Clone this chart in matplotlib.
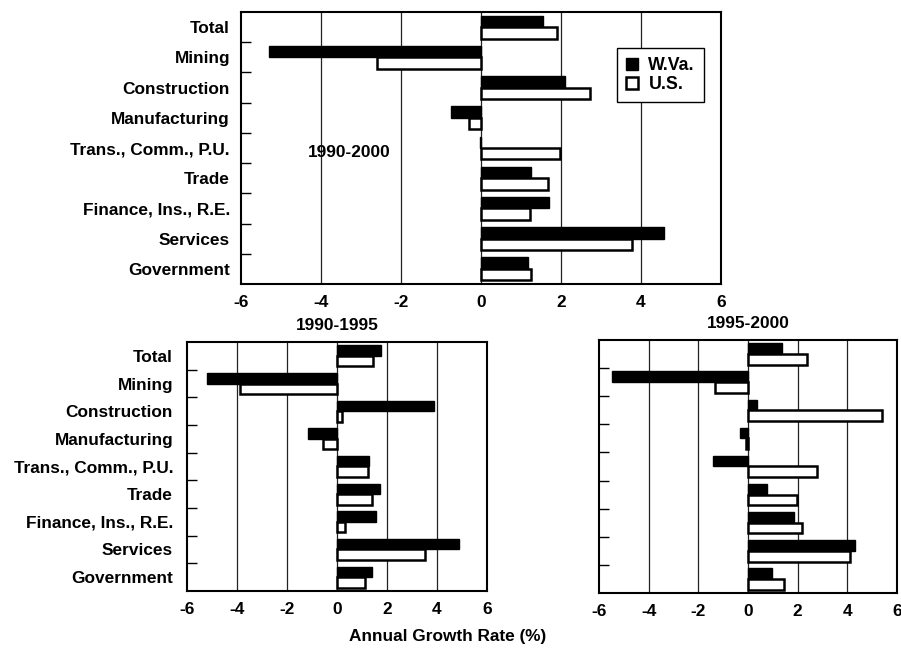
import numpy as np
import matplotlib
matplotlib.use("Agg")
import matplotlib.pyplot as plt
from matplotlib.patches import Patch

plt.rcParams['font.family'] = ['Liberation Sans', 'DejaVu Sans']
plt.rcParams['font.weight'] = 'bold'

industries = ["Total", "Mining", "Construction", "Manufacturing",
              "Trans., Comm., P.U.", "Trade", "Finance, Ins., R.E.",
              "Services", "Government"]

# annual growth rates (%)
wva_90_00 = [1.56, -5.31, 2.10, -0.74, -0.03, 1.25, 1.71, 4.58, 1.17]
us_90_00 = [1.90, -2.61, 2.74, -0.30, 1.98, 1.67, 1.23, 3.78, 1.26]

wva_90_95 = [1.78, -5.19, 3.88, -1.17, 1.30, 1.73, 1.58, 4.90, 1.39]
us_90_95 = [1.45, -3.89, 0.19, -0.56, 1.25, 1.41, 0.33, 3.51, 1.12]

wva_95_00 = [1.36, -5.47, 0.37, -0.33, -1.40, 0.77, 1.86, 4.29, 0.96]
us_95_00 = [2.39, -1.33, 5.39, -0.09, 2.78, 1.96, 2.17, 4.12, 1.43]

xticks = [-6, -4, -2, 0, 2, 4, 6]
FS = 12.4


def draw_panel(ax, wva, us, show_labels, label_pad):
    y = np.arange(len(industries))
    h = 0.38
    ax.barh(y - h / 2, wva, height=h, color='black', edgecolor='black',
            linewidth=1.0, zorder=3)
    ax.barh(y + h / 2, us, height=h, color='white', edgecolor='black',
            linewidth=1.8, zorder=3)
    ax.set_xlim(-6, 6)
    ax.set_ylim(len(industries) - 0.5, -0.5)
    ax.set_xticks(xticks)
    ax.set_xticklabels([str(t) for t in xticks], fontsize=FS, fontweight='bold')
    ax.tick_params(axis='x', length=0, pad=8)
    for t in xticks[1:-1]:
        ax.axvline(t, color='#222222', lw=0.9, zorder=1)
    # boundary ticks between categories, labels at the centres
    ax.set_yticks(np.arange(len(industries) - 1) + 0.5)
    ax.set_yticklabels([])
    ax.tick_params(axis='y', which='major', direction='in', length=7,
                   width=1.0, left=True, right=False)
    ax.set_yticks(y, minor=True)
    if show_labels:
        ax.set_yticklabels(industries, minor=True, fontsize=FS,
                           fontweight='bold')
    else:
        ax.set_yticklabels([], minor=True)
    ax.tick_params(axis='y', which='minor', length=0, pad=label_pad)
    for s in ax.spines.values():
        s.set_linewidth(1.5)


fig = plt.figure(figsize=(9.01, 6.48), dpi=100)

ax_top = fig.add_axes([0.2675, 0.5617, 0.5325, 0.4198])
ax_bl = fig.add_axes([0.2075, 0.088, 0.333, 0.3842])
ax_br = fig.add_axes([0.6648, 0.0849, 0.3308, 0.3904])

draw_panel(ax_top, wva_90_00, us_90_00, True, 8)
draw_panel(ax_bl, wva_90_95, us_90_95, True, 10)
draw_panel(ax_br, wva_95_00, us_95_00, False, 10)

ax_top.text(0.225, 0.482, "1990-2000", transform=ax_top.transAxes,
            ha='center', va='center', fontsize=FS, fontweight='bold')

handles = [Patch(facecolor='black', edgecolor='black', label='W.Va.'),
           Patch(facecolor='white', edgecolor='black', linewidth=1.8, label='U.S.')]
leg = ax_top.legend(handles=handles, loc='upper left',
                    bbox_to_anchor=(0.784, 0.868), borderaxespad=0,
                    fancybox=False, edgecolor='black', framealpha=1,
                    handlelength=0.66, handleheight=0.66, handletextpad=0.6,
                    borderpad=0.5, labelspacing=0.12,
                    prop={'size': 12.8, 'weight': 'bold'})
leg.get_frame().set_linewidth(1.0)

fig.text(337 / 901, 1 - 325 / 648, "1990-1995", ha='center', va='center',
         fontsize=FS, fontweight='bold')
fig.text(748 / 901, 1 - 323 / 648, "1995-2000", ha='center', va='center',
         fontsize=FS, fontweight='bold')
fig.text(448 / 901, 1 - 637 / 648, "Annual Growth Rate (%)", ha='center',
         va='center', fontsize=FS, fontweight='bold')

fig.savefig("out.png", dpi=100)
